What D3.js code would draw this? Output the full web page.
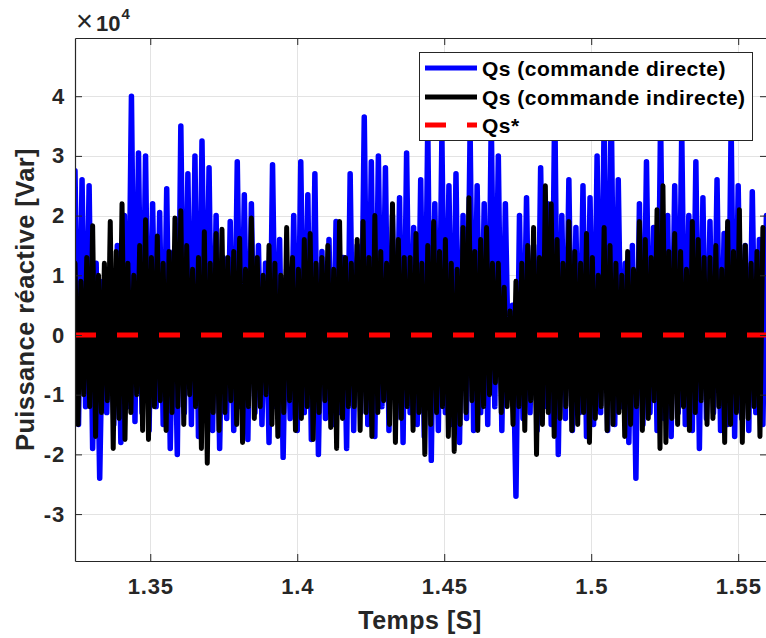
<!DOCTYPE html>
<html lang="fr">
  <head>
    <meta charset="utf-8" />
    <script src="https://d3js.org/d3.v7.min.js"></script>
    <style>
      body {
        margin: 0;
        background-color: #fff;
      }
      text {
        font-family: "Liberation Sans", Arial, sans-serif;
        font-weight: bold;
        fill: #262626;
      }
    </style>
  </head>
  <body>
    <div id="chart"></div>

    <script>
      // valeurs en x10^4 Var, echantillons alternes haut / bas
      const tStart = 1.3244;
      const dtDirect = 0.0012;
      const dtIndirect = 0.001;

      const directHigh = [
        2.75, 2.6, 2.5, 1.2, 0.9, 1.1, 1.5, 2.0, 4.0, 3.05,
        3.0, 2.2, 2.05, 2.45, 1.4, 3.5, 2.7, 3.0, 3.25, 2.8,
        2.0, 1.3, 1.9, 2.9, 2.35, 2.2, 1.5, 1.2, 2.85, 1.6,
        1.1, 2.0, 2.9, 2.35, 2.7, 1.4, 1.6, 1.9, 1.3, 2.7,
        1.5, 3.65, 2.9, 3.0, 2.8, 2.0, 2.3, 3.05, 1.8, 2.6,
        3.5, 2.2, 3.3, 2.5, 2.7, 2.0, 3.4, 2.5, 2.2, 3.6,
        3.0, 2.2, 0.5, 2.0, 2.3, 1.5, 2.8, 2.2, 3.9, 2.0,
        2.6, 1.8, 2.5, 2.3, 3.0, 3.6, 3.9, 2.6, 1.2, 1.5,
        2.2, 2.9, 1.8, 3.6, 2.0, 2.5, 3.4, 2.0, 2.9, 2.3,
        1.9, 2.6, 1.7, 3.5, 2.5, 1.5, 2.4, 1.6, 2.0
      ];
      const directLow = [
        -1.5, -1.2, -1.9, -2.4, -1.3, -1.5, -1.8, -1.2, -1.45, -1.3,
        -1.6, -1.2, -1.5, -1.9, -2.0, -1.3, -1.5, -1.7, -1.2, -1.6,
        -1.9, -1.4, -1.6, -1.2, -1.75, -1.3, -1.5, -1.8, -1.2, -2.05,
        -1.4, -1.6, -1.3, -1.75, -2.0, -1.4, -1.5, -1.3, -1.9, -1.6,
        -1.3, -1.5, -1.7, -1.2, -1.6, -1.4, -1.8, -1.3, -1.5, -1.7,
        -2.1, -1.6, -1.3, -1.5, -1.8, -1.4, -1.6, -1.3, -1.5, -1.2,
        -1.6, -1.0, -2.7, -1.4, -1.3, -1.6, -1.2, -1.5, -2.0, -1.4,
        -1.6, -1.3, -1.7, -1.5, -1.3, -1.6, -1.5, -1.2, -1.8, -2.4,
        -1.5, -1.3, -1.6, -1.4, -1.7, -1.3, -1.5, -1.6, -1.9, -1.4,
        -1.3, -1.6, -1.5, -1.7, -1.4, -1.6, -1.3, -1.5
      ];

      const indirectHigh = [
        1.2, 0.9, 1.3, 1.83, 1.0, 1.2, 1.9, 1.4, 2.2, 1.2,
        1.0, 1.5, 1.93, 1.3, 1.66, 1.2, 1.4, 1.96, 2.08, 1.5,
        1.1, 1.3, 1.73, 1.2, 1.7, 1.77, 1.3, 1.4, 1.62, 1.1,
        1.96, 1.3, 1.0, 1.5, 1.2, 1.0, 1.8, 1.3, 1.1, 1.6,
        1.7, 1.2, 1.3, 1.5, 1.1, 1.9, 1.3, 1.2, 1.6, 1.9,
        1.3, 2.0, 1.4, 1.2, 2.2, 1.6, 1.3, 1.3, 1.7, 1.2,
        1.5, 1.9, 1.4, 1.6, 1.2, 1.1, 1.8, 2.3, 1.4, 1.6,
        1.8, 1.2, 1.2, 0.8, 0.4, 0.9, 1.2, 1.5, 1.8, 1.3,
        2.5, 2.2, 1.6, 1.2, 1.9, 1.4, 1.2, 1.7, 1.3, 1.0,
        1.8, 1.5, 1.2, 1.0, 1.4, 1.1, 1.9, 1.6, 1.3, 2.1,
        2.5, 1.4, 1.7, 1.4, 1.1, 1.9, 1.6, 1.3, 1.3, 1.5,
        1.1, 1.9, 1.4, 2.1, 1.5, 1.2, 1.4, 1.8
      ];
      const indirectLow = [
        -1.5, -1.0, -1.2, -1.7, -1.3, -1.1, -1.9, -1.4, -1.75, -1.3,
        -1.0, -1.6, -1.75, -1.2, -1.1, -1.6, -1.3, -1.2, -1.5, -1.0,
        -1.2, -1.9, -2.15, -1.3, -1.6, -1.3, -1.1, -1.5, -1.8, -1.2,
        -1.4, -1.2, -1.0, -1.5, -1.7, -1.3, -1.1, -1.6, -1.4, -1.2,
        -1.75, -1.3, -1.1, -1.55, -1.9, -1.4, -1.2, -1.2, -1.6, -1.3,
        -1.7, -1.3, -1.1, -1.5, -1.8, -1.4, -1.2, -1.6, -1.3, -2.0,
        -1.5, -1.3, -1.2, -1.7, -1.95, -1.5, -1.3, -1.1, -1.6, -1.2,
        -1.0, -0.8, -1.3, -1.2, -1.5, -1.2, -1.6, -1.1, -2.0, -1.5,
        -1.3, -1.7, -1.4, -1.2, -1.6, -1.5, -1.3, -1.8, -1.4, -1.2,
        -1.6, -1.5, -1.3, -1.7, -1.5, -1.2, -1.6, -1.4, -1.1, -1.9,
        -1.8, -1.4, -1.5, -1.2, -1.6, -1.3, -1.1, -1.5, -1.4, -1.2,
        -1.8, -1.5, -1.3, -1.8, -1.4, -1.2, -1.7
      ];

      const reference = [0, 0];
      const xDomain = [1.3244, 1.5598];
      const yDomain = [-3.786, 4.975];
      const xTicks = [1.35, 1.4, 1.45, 1.5, 1.55];
      const yTicks = [-3, -2, -1, 0, 1, 2, 3, 4];
      const legendLabels = [
        "Qs (commande directe)",
        "Qs (commande indirecte)",
        "Qs*"
      ];

      function interleave(high, low, dt) {
        const out = [];
        high.forEach((h, i) => {
          out.push({ t: tStart + 2 * i * dt, v: h });
          if (i < low.length) out.push({ t: tStart + (2 * i + 1) * dt, v: low[i] });
        });
        return out;
      }

      const width = 766;
      const height = 638;
      const plot = { left: 75, top: 38, right: 767, bottom: 561 };

      const svg = d3
        .select("#chart")
        .append("svg")
        .attr("width", width)
        .attr("height", height);

      const x = d3.scaleLinear().domain(xDomain).range([plot.left, plot.right]);
      const y = d3.scaleLinear().domain(yDomain).range([plot.bottom, plot.top]);

      svg
        .append("defs")
        .append("clipPath")
        .attr("id", "clip")
        .append("rect")
        .attr("x", plot.left)
        .attr("y", plot.top)
        .attr("width", plot.right - plot.left)
        .attr("height", plot.bottom - plot.top);

      // grille
      const grid = svg.append("g").attr("stroke", "#e3e3e3").attr("stroke-width", 1);
      grid
        .selectAll(".gx")
        .data(xTicks)
        .join("line")
        .attr("x1", (d) => Math.round(x(d)) + 0.5)
        .attr("x2", (d) => Math.round(x(d)) + 0.5)
        .attr("y1", plot.top)
        .attr("y2", plot.bottom);
      grid
        .selectAll(".gy")
        .data(yTicks)
        .join("line")
        .attr("x1", plot.left)
        .attr("x2", plot.right)
        .attr("y1", (d) => Math.round(y(d)) + 0.5)
        .attr("y2", (d) => Math.round(y(d)) + 0.5);

      // courbes
      const line = d3
        .line()
        .x((d) => x(d.t))
        .y((d) => y(d.v));

      const curves = svg.append("g").attr("clip-path", "url(#clip)");

      curves
        .append("path")
        .datum(interleave(directHigh, directLow, dtDirect))
        .attr("fill", "none")
        .attr("stroke", "#0000ff")
        .attr("stroke-width", 5.5)
        .attr("stroke-linejoin", "round")
        .attr("stroke-linecap", "round")
        .attr("d", line);

      curves
        .append("path")
        .datum(interleave(indirectHigh, indirectLow, dtIndirect))
        .attr("fill", "none")
        .attr("stroke", "#000000")
        .attr("stroke-width", 5)
        .attr("stroke-linejoin", "round")
        .attr("stroke-linecap", "round")
        .attr("d", line);

      curves
        .append("path")
        .datum(xDomain.map((t, i) => ({ t: t, v: reference[i] })))
        .attr("fill", "none")
        .attr("stroke", "#ff0000")
        .attr("stroke-width", 5)
        .attr("stroke-dasharray", "21,21")
        .attr("d", line);

      // axes (boite)
      const axisColor = "#262626";
      const tickLen = 7;
      const minusFmt = (d) => (d < 0 ? "-" + Math.abs(d) : String(d));

      const xAxisB = d3.axisBottom(x).tickValues(xTicks).tickSizeInner(-tickLen).tickSizeOuter(0).tickPadding(17).tickFormat(minusFmt);
      const xAxisT = d3.axisTop(x).tickValues(xTicks).tickSizeInner(-tickLen).tickSizeOuter(0).tickFormat("");
      const yAxisL = d3.axisLeft(y).tickValues(yTicks).tickSizeInner(-tickLen).tickSizeOuter(0).tickPadding(10).tickFormat(minusFmt);
      const yAxisR = d3.axisRight(y).tickValues(yTicks).tickSizeInner(-tickLen).tickSizeOuter(0).tickFormat("");

      function styleAxis(g) {
        g.selectAll("path").attr("stroke", axisColor);
        g.selectAll("line").attr("stroke", axisColor);
        g.selectAll("text")
          .attr("fill", axisColor)
          .style("font-size", "22px")
          .style("letter-spacing", "0.8px")
          .style("font-weight", "bold")
          .style("font-family", "'Liberation Sans', Arial, sans-serif");
      }

      svg.append("g").attr("transform", `translate(0,${plot.bottom})`).call(xAxisB).call(styleAxis);
      svg.append("g").attr("transform", `translate(0,${plot.top})`).call(xAxisT).call(styleAxis);
      svg.append("g").attr("transform", `translate(${plot.left},0)`).call(yAxisL).call(styleAxis);
      svg.append("g").attr("transform", `translate(${plot.right},0)`).call(yAxisR).call(styleAxis);

      svg.selectAll(".domain").attr("stroke-width", 1.2);

      // multiplicateur
      const mult = svg.append("text").attr("x", 76).attr("y", 31).style("font-size", "22px");
      mult.append("tspan").text("\u00d7").style("font-weight", "normal").style("font-size", "29px");
      mult.append("tspan").attr("dx", 3).text("10");
      mult.append("tspan").attr("dy", -12).attr("dx", 1).style("font-size", "15px").text("4");

      // titres d'axes
      svg
        .append("text")
        .attr("x", 420)
        .attr("y", 629)
        .attr("text-anchor", "middle")
        .style("font-size", "25px")
        .style("letter-spacing", "0.5px")
        .text("Temps [S]");

      svg
        .append("text")
        .attr("transform", `translate(34,${(plot.top + plot.bottom) / 2}) rotate(-90)`)
        .attr("text-anchor", "middle")
        .style("font-size", "25.5px")
        .style("letter-spacing", "0.4px")
        .text("Puissance réactive [Var]");

      // legende
      const legend = svg.append("g");
      legend
        .append("rect")
        .attr("x", 419.5)
        .attr("y", 52.5)
        .attr("width", 333)
        .attr("height", 88)
        .attr("fill", "#fff")
        .attr("stroke", axisColor)
        .attr("stroke-width", 1);

      const legendColors = ["#0000ff", "#000000", "#ff0000"];
      const legendRows = [68, 97, 125];

      legendLabels.forEach((label, i) => {
        legend
          .append("line")
          .attr("x1", 425)
          .attr("x2", 477)
          .attr("y1", legendRows[i])
          .attr("y2", legendRows[i])
          .attr("stroke", legendColors[i])
          .attr("stroke-width", 5)
          .attr("stroke-dasharray", i === 2 ? "21,21" : null);
        legend
          .append("text")
          .attr("x", 482)
          .attr("y", legendRows[i])
          .attr("dy", "0.36em")
          .style("font-size", "21px")
          .style("letter-spacing", "0.5px")
          .style("fill", "#000")
          .text(label);
      });
    </script>
  </body>
</html>
